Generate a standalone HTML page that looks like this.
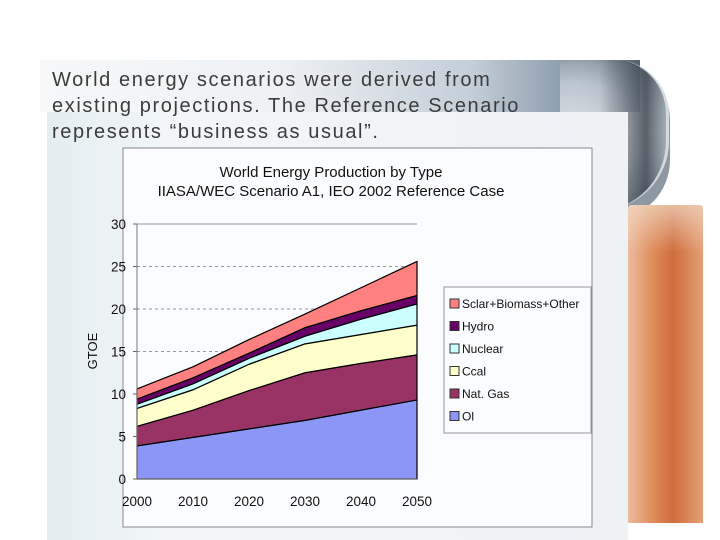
<!DOCTYPE html>
<html><head><meta charset="utf-8">
<style>
html,body{margin:0;padding:0;}
body{width:720px;height:540px;position:relative;overflow:hidden;background:#fff;font-family:"Liberation Sans",sans-serif;}
.abs{position:absolute;}
</style></head>
<body>
<div class="abs" style="left:40px;top:60px;width:600px;height:52px;background:linear-gradient(90deg,#f6f8f9 0%,#eef1f4 40%,#c3ced8 72%,#8395a6 90%,#56636f 100%);"></div>
<div class="abs" style="left:560px;top:60px;width:110px;height:160px;background:radial-gradient(ellipse at 15% 45%,rgba(230,234,238,0.9) 0%,rgba(200,208,215,0.8) 40%,rgba(120,135,148,0.85) 70%,rgba(70,80,90,0.6) 85%,rgba(255,255,255,0) 100%);border-radius:0 60px 60px 0;"></div>
<div class="abs" style="left:600px;top:60px;width:66px;height:150px;border-right:3px solid rgba(220,225,230,0.9);border-radius:0 55px 70px 0;background:linear-gradient(90deg,rgba(90,100,110,0.0) 0%,rgba(50,58,66,0.7) 70%,rgba(200,205,210,0.3) 100%);"></div>
<div class="abs" style="left:47px;top:112px;width:581px;height:428px;background:linear-gradient(90deg,#e3eef0 0%,#f2f6f8 20%,#eef2f5 100%);"></div>
<div class="abs" style="left:628px;top:205px;width:75px;height:318px;background:linear-gradient(180deg,rgba(240,220,200,0.7) 0%,rgba(255,255,255,0) 15%),linear-gradient(90deg,#eebba0 0%,#e09060 30%,#d06c3c 60%,#e4a078 100%);border-radius:3px 3px 0 0;"></div>
<div class="abs" style="left:52px;top:67px;font-size:20px;line-height:26px;color:#3c3c3c;letter-spacing:1.6px;white-space:nowrap;">World energy scenarios were derived from<br>existing projections. The Reference Scenario<br>represents “business as usual”.</div>
<svg class="abs" style="left:0;top:0" width="720" height="540">
<rect x="123" y="148" width="469" height="379" fill="#fbfcfe" stroke="#888" stroke-width="1"/>
<text x="331" y="177" font-size="15" text-anchor="middle" fill="#111" font-family="Liberation Sans">World Energy Production by Type</text>
<text x="331" y="196" font-size="15" text-anchor="middle" fill="#111" font-family="Liberation Sans">IIASA/WEC Scenario A1, IEO 2002 Reference Case</text>
<text x="97" y="351" font-size="13" text-anchor="middle" fill="#111" transform="rotate(-90 97 351)" font-family="Liberation Sans">GTOE</text>
<g id="grid"></g><g id="areas"></g><g id="axes"></g>
<rect x="444" y="287" width="147" height="146" fill="#fbfcfe" stroke="#999"/>
<g id="legend"></g>
</svg>
<script>
const years=[2000,2010,2020,2030,2040,2050];
const seriesNames=["Oil","Nat. Gas","Coal","Nuclear","Hydro","Solar+Biomass+Other"];
const legendLabels=["Ol","Nat. Gas","Ccal","Nuclear"," Hydro","Sclar+Biomass+Other"];
const colors=["#8c96f6","#993366","#ffffcc","#ccffff","#660066","#ff8080"];
const oil=[3.9,4.9,5.9,6.9,8.1,9.3];
const gas=[2.3,3.2,4.5,5.6,5.5,5.3];
const coal=[2.1,2.4,3.1,3.4,3.4,3.5];
const nuclear=[0.5,0.7,0.7,0.9,1.8,2.5];
const hydro=[0.6,0.7,0.6,1.0,1.0,1.0];
const solar=[1.2,1.3,1.6,1.6,2.7,4.0];
const yTicks=[0,5,10,15,20,25,30];
const NS="http://www.w3.org/2000/svg";
const X=y=>137+(y-2000)/50*280, Y=v=>479-v*8.5;
function mk(t,a,p){const e=document.createElementNS(NS,t);for(const k in a)e.setAttribute(k,a[k]);p.appendChild(e);return e;}
const grid=document.getElementById('grid'),axes=document.getElementById('axes'),areas=document.getElementById('areas'),leg=document.getElementById('legend');
yTicks.forEach(t=>{
 if(t>0&&t<30){const l=mk('line',{x1:137,x2:417,y1:Y(t),y2:Y(t),stroke:'#999','stroke-dasharray':'3,3'},grid);
 
 }
 const tx=mk('text',{x:126,y:Y(t)+5,'font-size':13.5,'text-anchor':'end',fill:'#111','font-family':'Liberation Sans'},axes);tx.textContent=t;
 
 
 mk('line',{x1:133,x2:137,y1:Y(t),y2:Y(t),stroke:'#666'},axes);
});
years.forEach(yr=>{
 const tx=mk('text',{x:X(yr),y:506,'font-size':13.5,'text-anchor':'middle',fill:'#111','font-family':'Liberation Sans'},axes);tx.textContent=yr;
 
 
});
mk('line',{x1:137,x2:137,y1:Y(30),y2:Y(0),stroke:'#777'},axes);
mk('line',{x1:137,x2:417,y1:Y(0),y2:Y(0),stroke:'#777'},axes);
mk('line',{x1:137,x2:417,y1:Y(30),y2:Y(30),stroke:'#999'},axes);
const all=[oil,gas,coal,nuclear,hydro,solar];
let base=years.map(()=>0);
all.forEach((s,i)=>{
 const top=base.map((b,j)=>b+s[j]);
 let d='M'+years.map((yr,j)=>X(yr)+','+Y(top[j])).join(' L');
 d+=' L'+years.slice().reverse().map((yr,j)=>X(yr)+','+Y(base[years.length-1-j])).join(' L')+' Z';
 const p=mk('path',{d:d,fill:colors[i],stroke:'#000','stroke-width':1.2,'stroke-linejoin':'round'},areas);
 
 
 base=top;
});
for(let i=0;i<6;i++){
 const idx=5-i, yy=308+i*22.5;
 const r=mk('rect',{x:450,y:yy-9,width:9,height:9,fill:colors[idx],stroke:'#333'},leg);
 
 
 const t=mk('text',{x:462,y:yy,'font-size':12,fill:'#111','font-family':'Liberation Sans'},leg);t.textContent=legendLabels[idx];
 
 
}
</script>
</body></html>
